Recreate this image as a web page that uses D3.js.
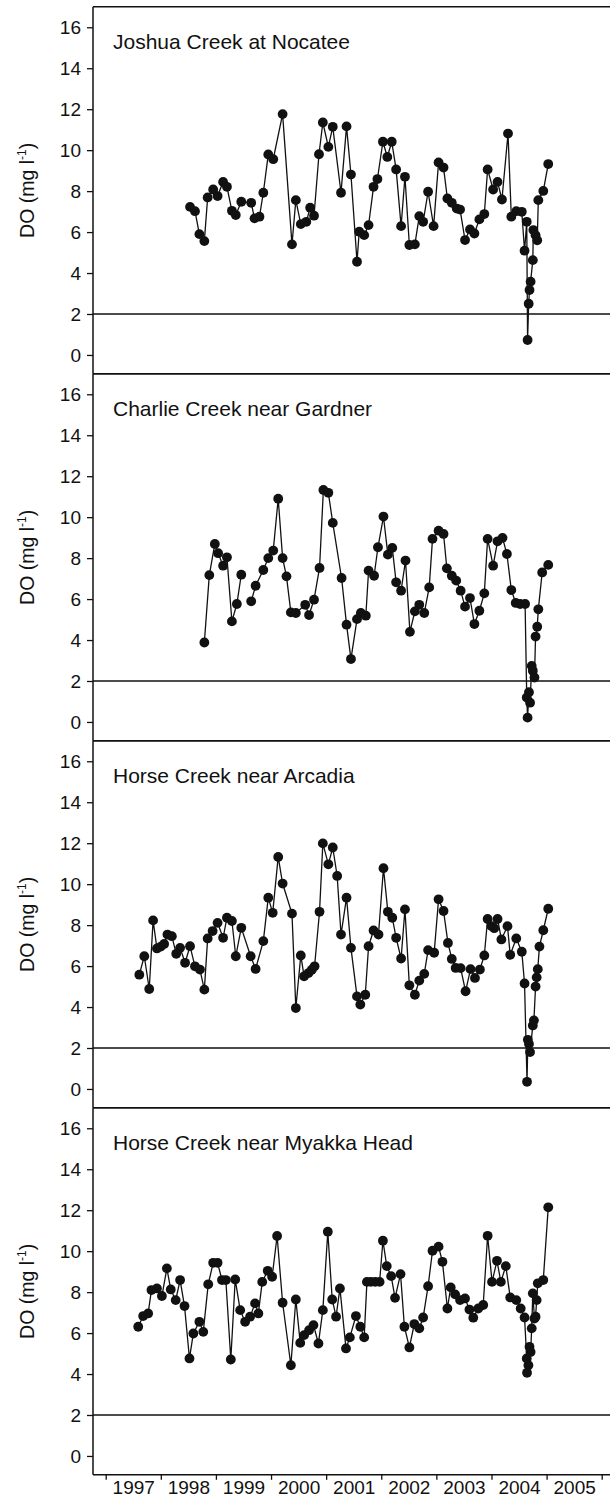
<!DOCTYPE html>
<html>
<head>
<meta charset="utf-8">
<script src="https://cdn.jsdelivr.net/npm/d3@7/dist/d3.min.js"></script>
<style>
  html, body { margin: 0; padding: 0; background: #fff; }
  svg { display: block; font-family: "Liberation Sans", Arial, Helvetica, sans-serif; }
</style>
</head>
<body>
<svg id="chart" width="610" height="1502"></svg>
<script>
// ---------------- DATA (decimal year, DO mg/l) ----------------
const stationNames = ["Joshua Creek at Nocatee", "Charlie Creek near Gardner", "Horse Creek near Arcadia", "Horse Creek near Myakka Head"];

const joshuaDates = [1998.53,1998.62,1998.70,1998.79,1998.85,1998.95,1999.03,1999.13,1999.20,1999.29,1999.36,1999.46,1999.64,1999.70,1999.79,1999.86,1999.95,2000.04,2000.21,2000.38,2000.45,2000.54,2000.64,2000.71,2000.78,2000.87,2000.94,2001.04,2001.12,2001.27,2001.37,2001.45,2001.56,2001.60,2001.69,2001.77,2001.86,2001.93,2002.03,2002.11,2002.19,2002.27,2002.36,2002.43,2002.51,2002.61,2002.69,2002.76,2002.85,2002.95,2003.04,2003.13,2003.20,2003.28,2003.37,2003.43,2003.52,2003.61,2003.69,2003.78,2003.87,2003.93,2004.03,2004.11,2004.19,2004.30,2004.36,2004.45,2004.55,2004.60,2004.64,2004.655,2004.675,2004.69,2004.71,2004.75,2004.76,2004.80,2004.83,2004.85,2004.94,2005.03];
const joshuaDO = [7.23,7.02,5.90,5.56,7.69,8.08,7.76,8.45,8.21,7.04,6.83,7.48,7.43,6.67,6.75,7.92,9.79,9.56,11.76,5.40,7.56,6.39,6.50,7.19,6.80,9.80,11.35,10.16,11.14,7.92,11.16,8.81,4.55,6.02,5.85,6.34,8.21,8.59,10.41,9.67,10.41,9.06,6.29,8.70,5.37,5.40,6.78,6.50,7.97,6.29,9.40,9.15,7.64,7.43,7.15,7.10,5.61,6.13,5.93,6.62,6.88,9.06,8.08,8.45,7.59,10.81,6.75,7.02,6.99,5.09,6.50,0.73,2.50,3.17,3.58,4.63,6.10,5.85,5.60,7.56,8.01,9.32];

const charlieDates = [1998.79,1998.88,1998.98,1999.04,1999.13,1999.20,1999.29,1999.38,1999.46,1999.55,1999.64,1999.72,1999.86,1999.95,2000.04,2000.13,2000.21,2000.28,2000.36,2000.45,2000.62,2000.69,2000.78,2000.88,2000.95,2001.04,2001.12,2001.28,2001.37,2001.45,2001.56,2001.63,2001.72,2001.77,2001.87,2001.94,2002.04,2002.12,2002.20,2002.27,2002.36,2002.44,2002.52,2002.61,2002.69,2002.78,2002.87,2002.93,2003.04,2003.13,2003.19,2003.28,2003.36,2003.44,2003.52,2003.61,2003.69,2003.78,2003.87,2003.93,2004.03,2004.11,2004.20,2004.28,2004.36,2004.44,2004.52,2004.61,2004.64,2004.655,2004.68,2004.70,2004.73,2004.75,2004.78,2004.80,2004.83,2004.85,2004.92,2005.03];
const charlieDO = [3.88,7.17,8.69,8.24,7.63,8.04,4.91,5.76,7.19,null,5.89,6.65,7.42,8.00,8.37,10.90,8.00,7.11,5.35,5.32,5.72,5.22,5.97,7.52,11.33,11.19,9.72,7.03,4.75,3.07,5.02,5.32,5.19,7.39,7.14,8.53,10.03,8.17,8.50,6.82,6.41,7.88,4.40,5.40,5.72,5.32,6.57,8.94,9.34,9.18,7.50,7.14,6.90,6.41,5.63,6.05,4.78,5.43,6.28,8.94,7.63,8.82,8.99,8.20,6.44,5.81,5.76,5.76,1.19,0.21,1.45,0.94,2.74,2.50,2.17,4.17,4.65,5.50,7.30,7.67];

const arcadiaDates = [1997.61,1997.70,1997.79,1997.86,1997.93,1998.00,1998.06,1998.12,1998.20,1998.28,1998.35,1998.44,1998.53,1998.62,1998.71,1998.79,1998.85,1998.94,1999.03,1999.13,1999.20,1999.29,1999.36,1999.46,1999.63,1999.72,1999.86,1999.95,2000.03,2000.13,2000.21,2000.38,2000.45,2000.54,2000.60,2000.68,2000.74,2000.79,2000.88,2000.94,2001.04,2001.12,2001.20,2001.27,2001.37,2001.45,2001.56,2001.62,2001.71,2001.77,2001.86,2001.95,2002.04,2002.12,2002.20,2002.27,2002.36,2002.43,2002.51,2002.61,2002.69,2002.78,2002.85,2002.96,2003.04,2003.13,2003.21,2003.28,2003.35,2003.44,2003.53,2003.62,2003.70,2003.79,2003.87,2003.93,2004.00,2004.05,2004.11,2004.18,2004.29,2004.34,2004.45,2004.55,2004.60,2004.645,2004.66,2004.68,2004.70,2004.75,2004.77,2004.80,2004.82,2004.84,2004.87,2004.94,2005.03];
const arcadiaDO = [5.58,6.48,4.88,8.23,6.86,6.95,7.08,7.54,7.46,6.60,6.89,6.16,6.97,5.99,5.83,4.85,7.35,7.71,8.11,7.38,8.36,8.20,6.48,7.87,6.48,5.86,7.22,9.34,8.60,11.33,10.03,8.56,3.95,6.52,5.50,5.66,5.82,5.99,8.65,11.99,10.97,11.79,10.40,7.54,9.34,6.89,4.52,4.12,4.60,6.97,7.74,7.54,10.78,8.65,8.36,7.38,6.37,8.77,5.06,4.60,5.29,5.62,6.78,6.65,9.26,8.69,7.13,6.35,5.91,5.90,4.77,5.85,5.42,5.83,6.52,8.30,7.95,7.85,8.30,7.30,7.95,6.55,7.35,6.70,5.15,0.35,2.40,2.20,1.80,3.10,3.35,5.00,5.45,5.85,6.95,7.75,8.80];

const myakkaDates = [1997.59,1997.68,1997.77,1997.83,1997.93,1998.02,1998.11,1998.18,1998.27,1998.35,1998.43,1998.52,1998.59,1998.70,1998.77,1998.86,1998.95,1999.03,1999.11,1999.18,1999.27,1999.35,1999.44,1999.53,1999.62,1999.71,1999.77,1999.84,1999.94,2000.02,2000.11,2000.21,2000.36,2000.45,2000.53,2000.60,2000.69,2000.77,2000.86,2000.94,2001.03,2001.11,2001.18,2001.25,2001.36,2001.43,2001.54,2001.62,2001.69,2001.74,2001.81,2001.89,2001.97,2002.03,2002.10,2002.18,2002.25,2002.35,2002.42,2002.51,2002.60,2002.69,2002.76,2002.85,2002.93,2003.04,2003.11,2003.20,2003.26,2003.34,2003.43,2003.52,2003.60,2003.67,2003.76,2003.85,2003.93,2004.01,2004.10,2004.17,2004.26,2004.34,2004.45,2004.53,2004.60,2004.64,2004.645,2004.67,2004.69,2004.71,2004.73,2004.75,2004.78,2004.80,2004.82,2004.84,2004.94,2005.03];
const myakkaDO = [6.31,6.83,6.96,8.10,8.18,7.81,9.16,8.13,7.61,8.59,7.32,4.76,5.98,6.55,6.06,8.38,9.43,9.43,8.59,8.59,4.71,8.62,7.12,6.55,6.80,7.45,6.96,8.50,9.04,8.75,10.74,7.48,4.43,7.64,5.52,5.90,6.14,6.39,5.49,7.12,10.95,7.64,6.80,8.18,5.25,5.79,6.83,6.31,5.79,8.50,8.50,8.50,8.50,10.51,9.27,8.78,7.72,8.88,6.31,5.30,6.44,6.23,6.76,8.29,10.02,10.22,9.48,7.20,8.23,7.89,7.61,7.69,7.15,6.75,7.20,7.37,10.75,8.50,9.53,8.50,9.27,7.74,7.61,7.20,6.76,4.76,4.06,4.43,5.33,5.08,6.23,7.94,6.71,6.80,7.61,8.43,8.59,12.14];

const yTicks = [0, 2, 4, 6, 8, 10, 12, 14, 16];
const yearTicks = [1997, 1998, 1999, 2000, 2001, 2002, 2003, 2004, 2005, 2006];
const yearLabels = [1997, 1998, 1999, 2000, 2001, 2002, 2003, 2004, 2005];
const thresholdDO = 2;

// ---------------- LAYOUT ----------------
const svg = d3.select("#chart");
const plotLeft = 93, plotRight = 612;
const panelTop0 = 6.8, panelH = 367;
const font = '"Liberation Sans", Arial, Helvetica, sans-serif';

const x = d3.scaleLinear().domain([1997, 2006]).range([105.7, 601.7]);

const series = [
  { name: stationNames[0], dates: joshuaDates, values: joshuaDO },
  { name: stationNames[1], dates: charlieDates, values: charlieDO },
  { name: stationNames[2], dates: arcadiaDates, values: arcadiaDO },
  { name: stationNames[3], dates: myakkaDates, values: myakkaDO }
];

series.forEach((s, i) => {
  const top = panelTop0 + i * panelH;
  const bottom = top + panelH;
  const y = d3.scaleLinear().domain([-0.92, 17]).range([bottom, top]);
  const g = svg.append("g");

  // frame lines
  g.append("line").attr("x1", plotLeft).attr("x2", plotRight).attr("y1", top).attr("y2", top)
    .attr("stroke", "#111").attr("stroke-width", 1.5);
  g.append("line").attr("x1", plotLeft).attr("x2", plotRight).attr("y1", bottom).attr("y2", bottom)
    .attr("stroke", "#111").attr("stroke-width", 1.5);
  g.append("line").attr("x1", plotLeft).attr("x2", plotLeft).attr("y1", top).attr("y2", bottom)
    .attr("stroke", "#111").attr("stroke-width", 1.5);

  // y axis
  const yAxis = g.append("g").attr("transform", `translate(${plotLeft},0)`)
    .call(d3.axisLeft(y).tickValues(yTicks).tickSize(6).tickPadding(6).tickFormat(d3.format("d")));
  yAxis.select(".domain").remove();
  yAxis.selectAll(".tick line").attr("stroke", "#111").attr("stroke-width", 1.3);
  yAxis.selectAll(".tick text").attr("font-size", 19).attr("font-family", font).attr("fill", "#111");

  // threshold line
  g.append("line").attr("x1", plotLeft).attr("x2", plotRight)
    .attr("y1", y(thresholdDO)).attr("y2", y(thresholdDO))
    .attr("stroke", "#111").attr("stroke-width", 1.6);

  // data line
  const pts = s.dates.map((d, k) => ({ t: d, v: s.values[k] }));
  const line = d3.line().defined(p => p.v !== null).x(p => x(p.t)).y(p => y(p.v));
  g.append("path").datum(pts).attr("d", line)
    .attr("fill", "none").attr("stroke", "#111").attr("stroke-width", 1.3);

  g.selectAll("circle").data(pts.filter(p => p.v !== null)).join("circle")
    .attr("cx", p => x(p.t)).attr("cy", p => y(p.v)).attr("r", 4.9)
    .attr("fill", "#111");

  // title
  g.append("text").attr("x", 113).attr("y", top + 42)
    .attr("font-size", 21).attr("font-family", font).attr("fill", "#111")
    .text(s.name);

  // y label
  const yl = g.append("text")
    .attr("transform", `translate(34,${(top + bottom) / 2}) rotate(-90)`)
    .attr("text-anchor", "middle").attr("font-size", 19.5).attr("font-family", font).attr("fill", "#111");
  yl.append("tspan").text("DO (mg l");
  yl.append("tspan").attr("font-size", 12).attr("dy", -8).text("-1");
  yl.append("tspan").attr("dy", 8).text(")");

  // bottom axis on last panel
  if (i === series.length - 1) {
    const xAxis = g.append("g").attr("transform", `translate(0,${bottom})`)
      .call(d3.axisBottom(x).tickValues(yearTicks).tickSize(5).tickFormat(""));
    xAxis.select(".domain").remove();
    xAxis.selectAll(".tick line").attr("stroke", "#111").attr("stroke-width", 1.3);

    const xLab = g.append("g").attr("transform", `translate(0,${bottom})`)
      .call(d3.axisBottom(x).tickValues(yearLabels.map(yr => yr + 0.5)).tickSize(0).tickPadding(6)
        .tickFormat(d => String(Math.floor(d))));
    xLab.select(".domain").remove();
    xLab.selectAll(".tick text").attr("font-size", 19).attr("font-family", font).attr("fill", "#111");
  }
});
</script>
</body>
</html>
